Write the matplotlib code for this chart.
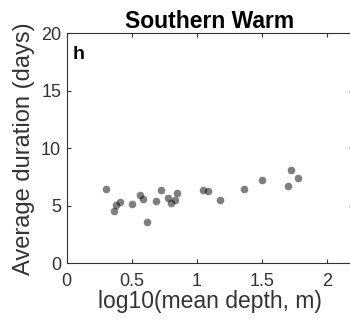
import numpy as np
import matplotlib
matplotlib.use('Agg')
import matplotlib.pyplot as plt

# log10(mean depth) vs average duration, Southern Warm
log_depth = [0.30, 0.36, 0.38, 0.41, 0.50, 0.564, 0.59, 0.62, 0.685, 0.725, 0.777,
             0.80, 0.83, 0.846, 1.05, 1.09, 1.18, 1.36, 1.50, 1.70, 1.725, 1.78]
duration = [6.41, 4.55, 5.04, 5.33, 5.16, 5.94, 5.62, 3.57, 5.42, 6.38, 5.65,
            5.25, 5.45, 6.14, 6.38, 6.26, 5.48, 6.49, 7.25, 6.75, 8.09, 7.45]

x_ticks = [0, 0.5, 1, 1.5, 2]
x_tick_labels = ['0', '0.5', '1', '1.5', '2']
y_ticks = [0, 5, 10, 15, 20]

plt.rcParams['font.family'] = ['Liberation Sans', 'DejaVu Sans']
axis_col = '#333333'

fig = plt.figure(figsize=(3.5, 3.24), dpi=100)
ax = fig.add_axes([0.1906, 0.188, 0.8175, 0.709])

ax.scatter(log_depth, duration, s=30, color='black', alpha=0.5, linewidths=0)

ax.set_xlim(0, 2.2)
ax.set_ylim(0, 20)
ax.set_xticks(x_ticks)
ax.set_xticklabels(x_tick_labels)
ax.set_yticks(y_ticks)
ax.tick_params(direction='in', length=3, width=0.8, colors=axis_col,
               labelsize=13, top=True, right=True)
ax.tick_params(axis='x', pad=7)
ax.tick_params(axis='y', pad=4)
for sp in ax.spines.values():
    sp.set_color(axis_col)
    sp.set_linewidth(0.8)

ax.set_xlabel('log10(mean depth, m)', fontsize=16.5, color=axis_col, labelpad=0)
ax.set_ylabel('Average duration (days)', fontsize=17, color=axis_col, labelpad=4)
ax.set_title('Southern Warm', fontsize=16.5, fontweight='bold', pad=4)
ax.text(0.02, 0.89, 'h', transform=ax.transAxes, fontsize=14, fontweight='bold')

fig.savefig('out.png', dpi=100)
